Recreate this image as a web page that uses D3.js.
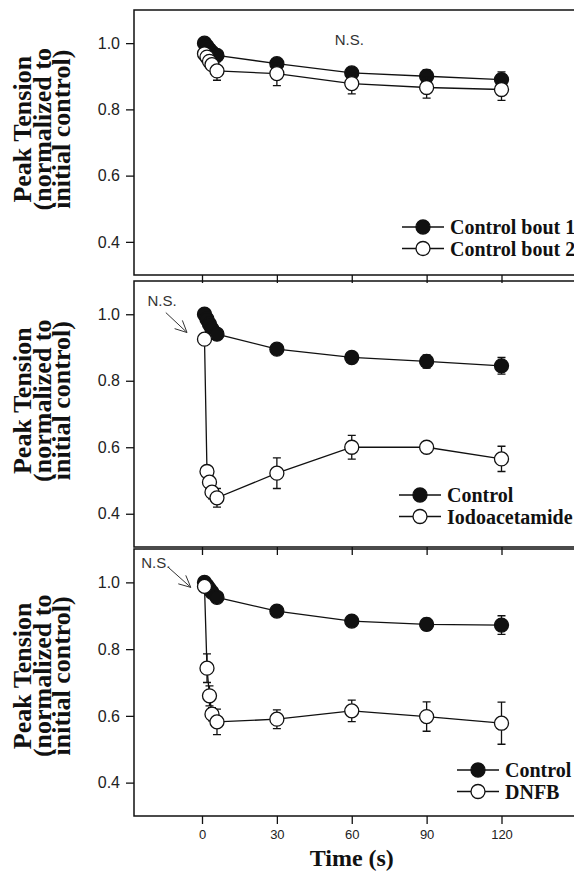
<!DOCTYPE html>
<html>
<head>
<meta charset="utf-8">
<script src="https://cdn.jsdelivr.net/npm/d3@7"></script>
<style>
  body { margin: 0; background: #fff; }
  svg { display: block; }
</style>
</head>
<body>
<script>
// sampling times (s), shared by every series
var times = [1, 2, 3, 4, 6, 30, 60, 90, 120];

// top panel: two control bouts
var bout1    = [1.000, 0.990, 0.980, 0.972, 0.963, 0.938, 0.910, 0.900, 0.890];
var bout1Err = [0.010, 0.010, 0.010, 0.010, 0.012, 0.015, 0.015, 0.020, 0.023];
var bout2    = [0.968, 0.958, 0.945, 0.935, 0.916, 0.908, 0.878, 0.866, 0.860];
var bout2Err = [0.010, 0.010, 0.012, 0.015, 0.028, 0.036, 0.031, 0.032, 0.033];

// middle panel: control vs iodoacetamide
var iaControl    = [1.000, 0.985, 0.970, 0.955, 0.940, 0.895, 0.870, 0.858, 0.845];
var iaControlErr = [0.005, 0.005, 0.005, 0.008, 0.010, 0.012, 0.015, 0.020, 0.025];
var iodo         = [0.925, 0.527, 0.495, 0.465, 0.448, 0.522, 0.600, 0.600, 0.565];
var iodoErr      = [0.010, 0.010, 0.020, 0.020, 0.028, 0.046, 0.036, 0.015, 0.038];

// bottom panel: control vs DNFB
var dnfbControl    = [1.000, 0.990, 0.980, 0.970, 0.955, 0.914, 0.884, 0.874, 0.872];
var dnfbControlErr = [0.005, 0.005, 0.008, 0.010, 0.010, 0.012, 0.015, 0.018, 0.028];
var dnfb           = [0.988, 0.743, 0.660, 0.605, 0.582, 0.590, 0.615, 0.598, 0.578];
var dnfbErr        = [0.010, 0.043, 0.030, 0.020, 0.038, 0.028, 0.032, 0.044, 0.063];

var yTicks = [0.4, 0.6, 0.8, 1.0];
var xTicks = [0, 30, 60, 90, 120];
var legendLabels = [["Control bout 1", "Control bout 2"],
                    ["Control", "Iodoacetamide"],
                    ["Control", "DNFB"]];
var titleLines = ["Peak Tension", "(normalized to", "initial control)"];

var width = 574, height = 874;
var frameLeft = 134, frameRight = 574;
var radius = 7;
var serif = "'Liberation Serif','Times New Roman',serif";
var sans = "'Liberation Sans',Arial,sans-serif";

var panels = [
  {top: 10, bottom: 275, titleV: 0.74, legendX: 450, legendY: 227,
   series: [{v: bout1, e: bout1Err, filled: true}, {v: bout2, e: bout2Err, filled: false}],
   ns: {t: 59, v: 1.01, arrow: null}},
  {top: 281, bottom: 547, titleV: 0.74, legendX: 447, legendY: 495,
   series: [{v: iaControl, e: iaControlErr, filled: true}, {v: iodo, e: iodoErr, filled: false}],
   ns: {t: -16, v: 1.04, arrow: [[-14.5, 1.005], [-6, 0.945]]}},
  {top: 549, bottom: 816, titleV: 0.72, legendX: 505, legendY: 770,
   series: [{v: dnfbControl, e: dnfbControlErr, filled: true}, {v: dnfb, e: dnfbErr, filled: false}],
   ns: {t: -18.5, v: 1.06, arrow: [[-13.5, 1.045], [-4.5, 0.985]]}}
];

var svg = d3.select("body").append("svg")
  .attr("width", width)
  .attr("height", height);

var xScale = d3.scaleLinear()
  .domain([0, 120])
  .range([202, 501.5]);

function drawPanel(p, idx) {
  var g = svg.append("g");
  var yScale = d3.scaleLinear()
    .domain([0.3, 1.1])
    .range([p.bottom, p.top]);

  // frame: left, top and bottom only (right side runs off the page)
  g.append("path")
    .attr("d", "M" + frameRight + "," + p.top + "H" + frameLeft + "V" + p.bottom + "H" + frameRight)
    .attr("fill", "none")
    .attr("stroke", "#111")
    .attr("stroke-width", 1.5);

  var yAxis = g.append("g")
    .attr("transform", "translate(" + frameLeft + ",0)")
    .call(d3.axisLeft(yScale).tickValues(yTicks).tickSize(8).tickPadding(6)
      .tickFormat(d3.format(".1f")));
  yAxis.select(".domain").remove();
  yAxis.selectAll("line").attr("stroke", "#111").attr("stroke-width", 1.3);
  yAxis.selectAll("text")
    .attr("font-family", sans)
    .attr("font-size", 16)
    .attr("fill", "#222");

  var xAxis = g.append("g")
    .attr("transform", "translate(0," + p.bottom + ")")
    .call(d3.axisBottom(xScale).tickValues(xTicks).tickSize(8).tickPadding(6)
      .tickFormat(idx == 2 ? d3.format("d") : function() { return ""; }));
  xAxis.select(".domain").remove();
  xAxis.selectAll("line").attr("stroke", "#111").attr("stroke-width", 1.3);
  xAxis.selectAll("text")
    .attr("font-family", sans)
    .attr("font-size", 13)
    .attr("fill", "#222");

  // rotated y title
  var title = g.append("g")
    .attr("transform", "translate(0," + yScale(p.titleV) + ") rotate(-90)");
  title.selectAll("text")
    .data(titleLines)
    .enter()
    .append("text")
      .attr("x", 0)
      .attr("y", function(d, i) { return 31 + i * 19.5; })
      .attr("text-anchor", "middle")
      .attr("font-family", serif)
      .attr("font-weight", "bold")
      .attr("font-size", 26)
      .attr("fill", "#111")
      .text(function(d) { return d; });

  var line = d3.line()
    .x(function(d) { return xScale(d.t); })
    .y(function(d) { return yScale(d.v); });

  p.series.forEach(function(s) {
    var pts = times.map(function(t, i) { return {t: t, v: s.v[i], e: s.e[i]}; });

    g.append("path")
      .datum(pts)
      .attr("d", line)
      .attr("fill", "none")
      .attr("stroke", "#111")
      .attr("stroke-width", 1.3);

    var bars = g.append("g");
    bars.selectAll("path")
      .data(pts)
      .enter()
      .append("path")
        .attr("d", function(d) {
          var x = xScale(d.t), y0 = yScale(d.v - d.e), y1 = yScale(d.v + d.e);
          return "M" + x + "," + y0 + "V" + y1 +
                 "M" + (x - 4) + "," + y0 + "H" + (x + 4) +
                 "M" + (x - 4) + "," + y1 + "H" + (x + 4);
        })
        .attr("fill", "none")
        .attr("stroke", "#111")
        .attr("stroke-width", 1.3);

    g.append("g").selectAll("circle")
      .data(pts)
      .enter()
      .append("circle")
        .attr("cx", function(d) { return xScale(d.t); })
        .attr("cy", function(d) { return yScale(d.v); })
        .attr("r", radius)
        .attr("fill", s.filled ? "#111" : "#fff")
        .attr("stroke", "#111")
        .attr("stroke-width", 1.3);
  });

  // legend
  var leg = g.append("g");
  legendLabels[idx].forEach(function(label, i) {
    var ly = p.legendY + i * 21.5;
    leg.append("line")
      .attr("x1", p.legendX - 48).attr("x2", p.legendX - 6)
      .attr("y1", ly).attr("y2", ly)
      .attr("stroke", "#111")
      .attr("stroke-width", 1.3);
    leg.append("circle")
      .attr("cx", p.legendX - 27).attr("cy", ly)
      .attr("r", radius)
      .attr("fill", p.series[i].filled ? "#111" : "#fff")
      .attr("stroke", "#111")
      .attr("stroke-width", 1.3);
    leg.append("text")
      .attr("x", p.legendX).attr("y", ly)
      .attr("dy", "0.35em")
      .attr("font-family", serif)
      .attr("font-weight", "bold")
      .attr("font-size", 20)
      .attr("fill", "#111")
      .text(label);
  });

  // N.S. note and arrow
  g.append("text")
    .attr("x", xScale(p.ns.t))
    .attr("y", yScale(p.ns.v))
    .attr("dy", "0.35em")
    .attr("text-anchor", "middle")
    .attr("font-family", sans)
    .attr("font-size", 15)
    .attr("fill", "#333")
    .text("N.S.");
  if (p.ns.arrow) {
    var a = p.ns.arrow;
    var x0 = xScale(a[0][0]), y0 = yScale(a[0][1]);
    var x1 = xScale(a[1][0]), y1 = yScale(a[1][1]);
    var ang = Math.atan2(y1 - y0, x1 - x0);
    var d = "M" + x0 + "," + y0 + "L" + x1 + "," + y1;
    [-0.45, 0.45].forEach(function(off) {
      d += "M" + x1 + "," + y1 + "L" + (x1 - 13 * Math.cos(ang + off)) + "," + (y1 - 13 * Math.sin(ang + off));
    });
    g.append("path")
      .attr("d", d)
      .attr("fill", "none")
      .attr("stroke", "#333")
      .attr("stroke-width", 1);
  }
}

panels.forEach(drawPanel);

svg.append("text")
  .attr("x", xScale(60))
  .attr("y", 866)
  .attr("text-anchor", "middle")
  .attr("font-family", serif)
  .attr("font-weight", "bold")
  .attr("font-size", 24)
  .attr("fill", "#111")
  .text("Time (s)");
</script>
</body>
</html>
